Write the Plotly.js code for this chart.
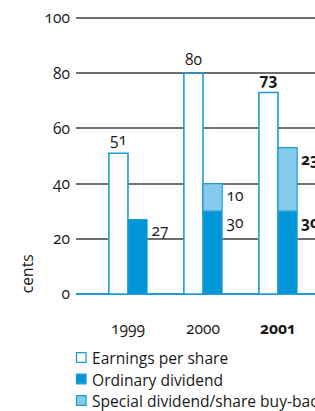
<!DOCTYPE html>
<html>
<head>
<meta charset="utf-8">
<script src="https://cdn.plot.ly/plotly-3.0.1.min.js"></script>
<style>
html,body{margin:0;padding:0;background:#fff;}
.main-svg text, .main-svg tspan{font-variant-numeric:oldstyle-nums !important;font-feature-settings:"onum" 1 !important;}
</style>
</head>
<body>
<div id="chart" style="width:315px;height:411px;"></div>
<script>
const years = ['1999', '2000', '2001'];
const eps = [51, 80, 73];
const ordinary = [27, 30, 30];
const special = [0, 10, 23];
const boldYear = [false, false, true];
const seriesNames = ['Earnings per share', 'Ordinary dividend', 'Special dividend/share buy-back'];
const yTicks = [0, 20, 40, 60, 80, 100];

const C_LINE = '#1f9cd8';
const C_ORD = '#0096d6';
const C_SPEC = '#84cbec';
const C_TEXT = '#1a1a1a';
const FONT = '"Open Sans", "Noto Sans", sans-serif';
const FS = 15.6;

const fmt = (v, i) => boldYear[i] ? '<b>' + v + '</b>' : String(v);
const BW = 0.255;

const traces = [
  {
    type: 'bar', name: seriesNames[0], x: years, y: eps,
    width: BW, offset: -BW,
    marker: {color: '#ffffff', line: {color: C_LINE, width: 1.6}},
    text: eps.map(fmt), textposition: 'outside', cliponaxis: false,
    textfont: {family: FONT, size: FS, color: C_TEXT},
    hoverinfo: 'none', showlegend: false
  },
  {
    type: 'bar', name: seriesNames[1], x: years, y: ordinary,
    width: BW, offset: 0,
    marker: {color: C_ORD, line: {color: C_LINE, width: 1}},
    hoverinfo: 'none', showlegend: false
  },
  {
    type: 'bar', name: seriesNames[2], x: years, y: special, base: ordinary,
    width: BW, offset: 0,
    marker: {color: C_SPEC, line: {color: C_LINE, width: 1.2}},
    hoverinfo: 'none', showlegend: false
  }
];

const annotations = [];
years.forEach((yr, i) => {
  annotations.push({
    x: i + BW, y: ordinary[i], xref: 'x', yref: 'y',
    xanchor: 'left', yanchor: 'top', xshift: 2, yshift: 2,
    text: fmt(ordinary[i], i), showarrow: false,
    font: {family: FONT, size: FS, color: C_TEXT}
  });
  if (special[i] > 0) {
    annotations.push({
      x: i + BW, y: ordinary[i] + special[i], xref: 'x', yref: 'y',
      xanchor: 'left', yanchor: 'top', xshift: 2, yshift: 2,
      text: fmt(special[i], i), showarrow: false,
      font: {family: FONT, size: FS, color: C_TEXT}
    });
  }
});

annotations.push({
  x: -0.205, y: 7.2, xref: 'paper', yref: 'y',
  xanchor: 'center', yanchor: 'middle', textangle: -90,
  text: 'cents', showarrow: false,
  font: {family: FONT, size: FS, color: C_TEXT}
});

// plot box: 0 at y=294, 100 at y=18 (2.76 px per cent)
const plotTop = 16, plotBottom = 294, plotL = 76, plotW = 239;
const plotH = plotBottom - plotTop;
const yMax = plotH / 2.76;
const py = p => (plotBottom - p) / plotH;
const px = p => (p - plotL) / plotW;
const rowY = [357.5, 379, 400.5];
const legFill = ['#ffffff', C_ORD, C_SPEC];
const shapes = [];
seriesNames.forEach((nm, k) => {
  shapes.push({
    type: 'rect', xref: 'paper', yref: 'paper',
    x0: px(76.5), x1: px(86), y0: py(rowY[k] - 4.8), y1: py(rowY[k] + 4.8),
    fillcolor: legFill[k], line: {color: C_LINE, width: 1.3}
  });
  annotations.push({
    x: px(89.5), y: py(rowY[k] + 0.5), xref: 'paper', yref: 'paper',
    xanchor: 'left', yanchor: 'middle',
    text: nm, showarrow: false,
    font: {family: FONT, size: FS, color: C_TEXT}
  });
});

const layout = {
  width: 315, height: 411,
  margin: {l: plotL, r: 0, t: plotTop, b: 411 - plotBottom, pad: 0},
  paper_bgcolor: '#ffffff', plot_bgcolor: '#ffffff',
  barmode: 'overlay',
  showlegend: false,
  font: {family: FONT, size: FS, color: C_TEXT},
  xaxis: {
    type: 'category', range: [-0.693, 2.493],
    tickvals: years, ticktext: years.map((y, i) => boldYear[i] ? '<b>' + y + '</b>' : y),
    showgrid: false, zeroline: false, showline: false, ticks: '',
    ticklabelstandoff: 23, fixedrange: true,
    tickfont: {family: FONT, size: FS, color: C_TEXT}
  },
  yaxis: {
    range: [0, yMax], tickvals: yTicks,
    showgrid: true, gridcolor: '#6f6f6f', gridwidth: 1.8,
    zeroline: true, zerolinecolor: C_LINE, zerolinewidth: 2,
    showline: false, ticks: '', ticklabelstandoff: 5, fixedrange: true,
    tickfont: {family: FONT, size: FS, color: C_TEXT}
  },
  annotations: annotations,
  shapes: shapes
};

function oldstyle() {
  document.querySelectorAll('#chart text, #chart tspan').forEach(el => {
    el.style.setProperty('font-variant-numeric', 'oldstyle-nums', 'important');
    el.style.setProperty('font-feature-settings', '"onum" 1', 'important');
  });
}
Plotly.newPlot('chart', traces, layout, {staticPlot: true, displayModeBar: false}).then(oldstyle);
</script>
</body>
</html>
